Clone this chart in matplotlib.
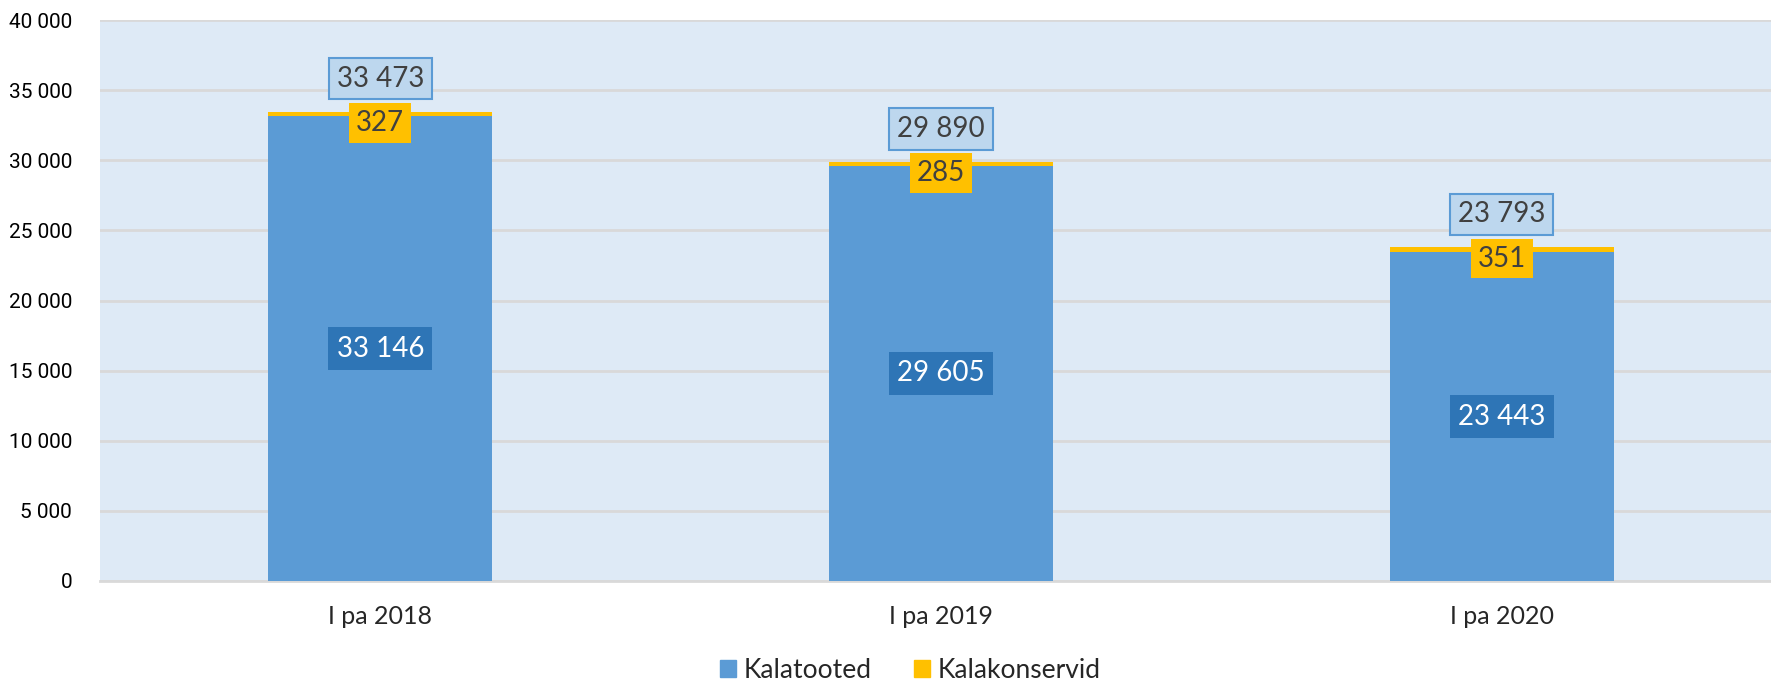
import matplotlib
matplotlib.use('Agg')
from matplotlib import pyplot as plt
from matplotlib.patches import Patch

categories = ['I pa 2018', 'I pa 2019', 'I pa 2020']
kalatooted = [33146, 29605, 23443]
kalakonservid = [327, 285, 351]
totals = [33473, 29890, 23793]
yticks = [0, 5000, 10000, 15000, 20000, 25000, 30000, 35000, 40000]

BLUE = '#5B9BD5'
DARK_BLUE = '#2E75B6'
YELLOW = '#FFC000'
BG = '#DEEAF6'
GRID = '#D9D9D9'
TEXT = '#404040'
label_font = 'Lato'

fig = plt.figure(figsize=(17.71, 6.83), dpi=100)
# plot area runs slightly past the right edge, as in the source
ax = fig.add_axes([100 / 1771, 1 - 581 / 683, 1682 / 1771, (581 - 20) / 683])
ax.set_facecolor(BG)

x = list(range(len(categories)))
ax.bar(x, kalatooted, width=0.4, color=BLUE, zorder=3, label='Kalatooted')
ax.bar(x, kalakonservid, width=0.4, bottom=kalatooted, color=YELLOW, zorder=3, label='Kalakonservid')

ax.set_xlim(-0.5, 2.5)
ax.set_ylim(0, 40000)
ax.set_yticks(yticks)
ax.set_yticklabels([f'{v:,}'.replace(',', ' ') for v in yticks], fontfamily='Roboto', fontsize=15, color='black')
ax.set_xticks(x)
ax.set_xticklabels(categories, fontfamily=label_font, fontsize=18, color='#262626')
ax.tick_params(axis='both', length=0)
ax.tick_params(axis='y', pad=20)
ax.tick_params(axis='x', pad=17)
ax.grid(axis='y', color=GRID, linewidth=2, zorder=0)
for side in ['top', 'left', 'right']:
    ax.spines[side].set_visible(False)
ax.spines['bottom'].set_color(GRID)
ax.spines['bottom'].set_linewidth(2)

def fmt(v):
    return f'{v:,}'.replace(',', ' ')

for i in x:
    ax.text(i, kalatooted[i] / 2, fmt(kalatooted[i]), ha='center', va='center',
            fontfamily=label_font, fontsize=20, color='white', zorder=5,
            bbox=dict(boxstyle='square,pad=0.3', facecolor=DARK_BLUE, edgecolor='none'))
    ax.text(i, totals[i] - 800, fmt(kalakonservid[i]), ha='center', va='center',
            fontfamily=label_font, fontsize=20, color=TEXT, zorder=5,
            bbox=dict(boxstyle='square,pad=0.25', facecolor=YELLOW, edgecolor='none'))
    ax.text(i, totals[i] + 2350, fmt(totals[i]), ha='center', va='center',
            fontfamily=label_font, fontsize=20, color=TEXT, zorder=5,
            bbox=dict(boxstyle='square,pad=0.28', facecolor='#BDD7EE', edgecolor=BLUE, linewidth=1.5))

handles = [Patch(color=BLUE, label='Kalatooted'), Patch(color=YELLOW, label='Kalakonservid')]
fig.legend(handles=handles, loc='lower center', bbox_to_anchor=(0.514, -0.035), ncol=2, frameon=False,
           prop={'family': label_font, 'size': 19}, handlelength=0.6, handleheight=0.6,
           handletextpad=0.3, columnspacing=1.6, labelcolor='#262626')

fig.savefig('out.png', dpi=100)
